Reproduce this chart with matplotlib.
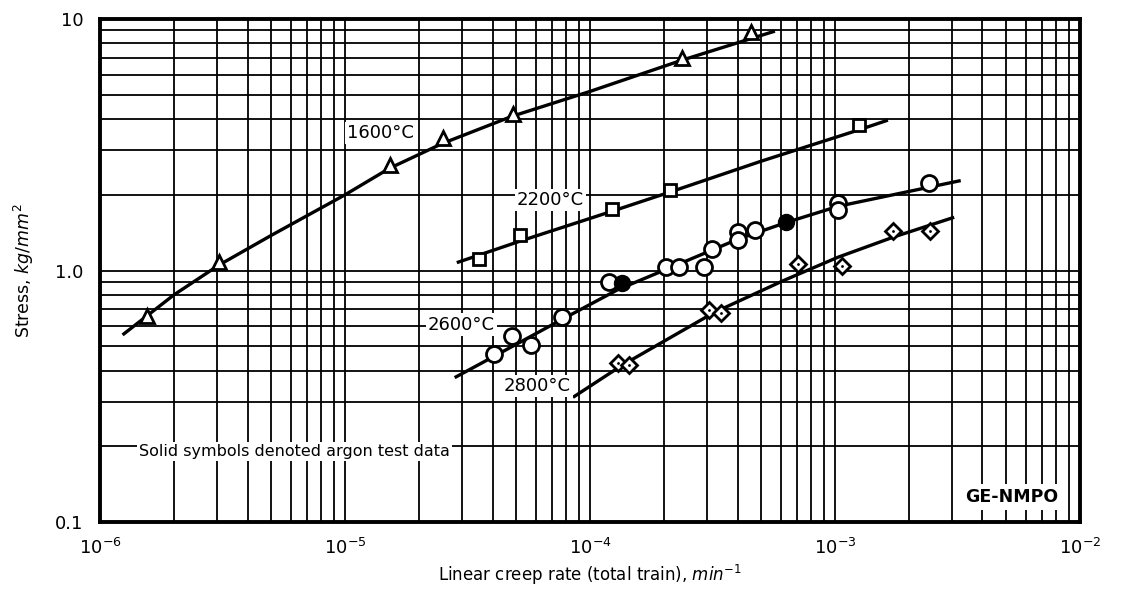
import matplotlib.pyplot as plt
from matplotlib.ticker import LogLocator, FixedLocator, NullFormatter

plt.rcParams['font.family'] = 'DejaVu Sans'
plt.rcParams['mathtext.fontset'] = 'dejavusans'

# 1600 C test points (triangles) and faired curve
rate_1600 = [1.56e-6, 3.05e-6, 1.52e-5, 2.52e-5, 4.83e-5, 2.37e-4, 4.56e-4]
stress_1600 = [0.66, 1.08, 2.63, 3.36, 4.17, 6.98, 8.84]
curve_rate_1600 = [1.25e-6, 2e-6, 3.05e-6, 5e-6, 1e-5, 1.52e-5, 2.5e-5, 4.8e-5,
                   1e-4, 2.37e-4, 5.6e-4]
curve_stress_1600 = [0.56, 0.80, 1.05, 1.38, 2.0, 2.55, 3.2, 4.1, 5.15, 6.85, 8.9]

# 2200 C (squares)
rate_2200 = [3.52e-5, 5.2e-5, 1.23e-4, 2.12e-4, 1.25e-3]
stress_2200 = [1.11, 1.39, 1.75, 2.09, 3.78]
curve_rate_2200 = [2.9e-5, 5.2e-5, 1.23e-4, 2.12e-4, 5e-4, 1.25e-3, 1.62e-3]
curve_stress_2200 = [1.08, 1.31, 1.72, 2.05, 2.72, 3.62, 3.94]

# 2600 C (circles), open = vacuum, solid = argon
rate_2600 = [4.04e-5, 4.79e-5, 5.72e-5, 7.7e-5, 1.2e-4, 2.04e-4, 2.31e-4,
             2.93e-4, 3.16e-4, 4.02e-4, 4.02e-4, 4.71e-4, 1.03e-3, 1.03e-3,
             2.42e-3]
stress_2600 = [0.467, 0.549, 0.504, 0.656, 0.904, 1.03, 1.03, 1.03, 1.22,
               1.42, 1.32, 1.45, 1.86, 1.74, 2.22]
argon_rate_2600 = [1.35e-4, 6.31e-4]
argon_stress_2600 = [0.89, 1.56]
curve_rate_2600 = [2.84e-5, 4.04e-5, 7.7e-5, 1.3e-4, 2.3e-4, 4e-4, 6.3e-4,
                   1.03e-3, 3.21e-3]
curve_stress_2600 = [0.378, 0.455, 0.64, 0.84, 1.06, 1.33, 1.55, 1.80, 2.27]

# 2800 C (diamonds)
rate_2800 = [1.3e-4, 1.44e-4, 3.07e-4, 3.41e-4, 7.03e-4, 1.07e-3, 1.73e-3,
             2.44e-3]
stress_2800 = [0.43, 0.42, 0.698, 0.68, 1.06, 1.04, 1.43, 1.44]
curve_rate_2800 = [8.63e-5, 1.35e-4, 3.2e-4, 6.13e-4, 1.03e-3, 1.74e-3, 3.02e-3]
curve_stress_2800 = [0.316, 0.42, 0.68, 0.91, 1.13, 1.36, 1.62]

fig = plt.figure(figsize=(11.38, 5.9), dpi=100)
ax = fig.add_axes([0.088, 0.115, 0.861, 0.853])
ax.set_xscale('log')
ax.set_yscale('log')
ax.set_xlim(1e-6, 1e-2)
ax.set_ylim(0.1, 10)

# graph-paper grid
ax.xaxis.set_minor_locator(LogLocator(base=10, subs=range(2, 10)))
ax.yaxis.set_minor_locator(LogLocator(base=10, subs=range(2, 10)))
ax.xaxis.set_minor_formatter(NullFormatter())
ax.yaxis.set_minor_formatter(NullFormatter())
ax.grid(which='both', color='black', linewidth=1.3)
ax.set_axisbelow(True)
for s in ax.spines.values():
    s.set_linewidth(2.8)

ax.yaxis.set_major_locator(FixedLocator([0.1, 1, 10]))
ax.set_yticklabels(['0.1', '1.0', '10'])
ax.tick_params(which='both', length=0, labelsize=13)
ax.tick_params(axis='y', pad=12)
ax.tick_params(axis='x', pad=11)

lw = 2.4
ax.plot(curve_rate_1600, curve_stress_1600, color='black', lw=lw, zorder=3)
ax.plot(curve_rate_2200, curve_stress_2200, color='black', lw=lw, zorder=3)
ax.plot(curve_rate_2600, curve_stress_2600, color='black', lw=lw, zorder=3)
ax.plot(curve_rate_2800, curve_stress_2800, color='black', lw=lw, zorder=3)

mk = dict(linestyle='none', markerfacecolor='white', markeredgecolor='black',
          markeredgewidth=2, zorder=4)
ax.plot(rate_1600, stress_1600, marker='^', markersize=10, **mk)
ax.plot(rate_2200, stress_2200, marker='s', markersize=9, **mk)
ax.plot(rate_2600, stress_2600, marker='o', markersize=11.5, **mk)
ax.plot(rate_2800, stress_2800, marker='D', markersize=8.5, **mk)
ax.plot(rate_2800, stress_2800, marker='.', markersize=2, linestyle='none',
        color='black', zorder=5)
ax.plot(argon_rate_2600, argon_stress_2600, marker='o', markersize=11.5,
        linestyle='none', color='black', zorder=5)

box = dict(facecolor='white', edgecolor='none', pad=1.5)
ax.text(1.39e-5, 3.51, '1600°C', fontsize=13, ha='center', va='center',
        bbox=box, zorder=6)
ax.text(6.9e-5, 1.91, '2200°C', fontsize=13, ha='center', va='center',
        bbox=box, zorder=6)
ax.text(2.99e-5, 0.61, '2600°C', fontsize=13, ha='center', va='center',
        bbox=box, zorder=6)
ax.text(6.1e-5, 0.348, '2800°C', fontsize=13, ha='center', va='center',
        bbox=box, zorder=6)
ax.text(0.198, 0.14, 'Solid symbols denoted argon test data', fontsize=11.5,
        ha='center', va='center', transform=ax.transAxes, bbox=box, zorder=6)
ax.text(0.93, 0.05, 'GE-NMPO', fontsize=12.5, fontweight='bold',
        ha='center', va='center', transform=ax.transAxes,
        bbox=dict(facecolor='white', edgecolor='none', pad=3), zorder=6)

ax.set_xlabel('Linear creep rate (total train), $min^{-1}$', fontsize=12,
              labelpad=4)
ax.set_ylabel('Stress, $kg/mm^2$', fontsize=12.5, labelpad=14)

fig.savefig('out.png', dpi=100)
